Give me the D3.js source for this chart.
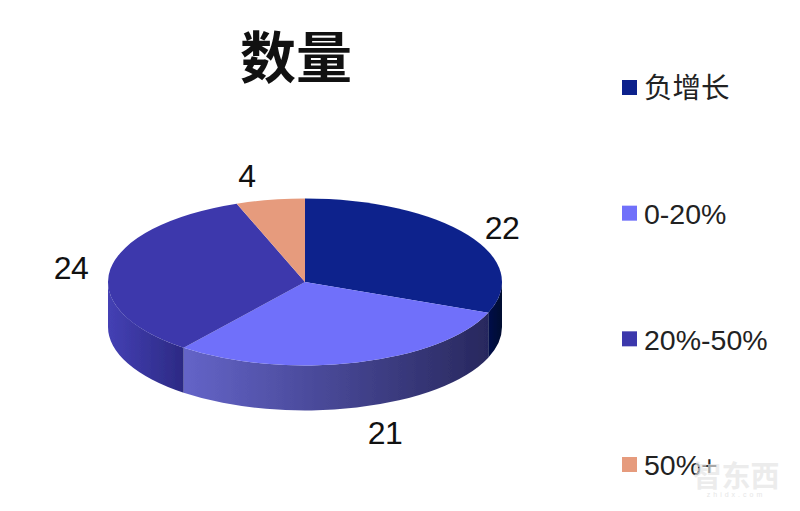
<!DOCTYPE html>
<html><head><meta charset="utf-8">
<script src="https://cdn.jsdelivr.net/npm/d3@7"></script>
<style>html,body{margin:0;padding:0;background:#fff}svg{display:block}</style>
</head><body><div id="c"></div>
<script>
const categories=["负增长","0-20%","20%-50%","50%+"];
const values=[22,21,24,4];
const colors=["#0c218c","#7070fa","#3c38ac","#e69b7d"];
const title="数量";
const sideStops=[["#00104a","#000a30"],["#6464c8","#28285e"],["#4440b4","#2c2a84"],["#a06a50","#a06a50"]];

const W=800,H=511,cx=305,cy=282,rx=197,ry=83.5,depth=45;
const svg=d3.select("#c").append("svg").attr("width",W).attr("height",H);
const defs=svg.append("defs");
defs.append("filter").attr("id","soft").append("feGaussianBlur").attr("stdDeviation",0.7);

const arcs=d3.pie().sort(null).value(d=>d)(values);
const px=a=>cx+rx*Math.sin(a), py=a=>cy-ry*Math.cos(a);
const g=svg.append("g").attr("filter","url(#soft)");

const lo=Math.PI/2,hi=Math.PI*1.5;
arcs.forEach((d,i)=>{
  const a=Math.max(d.startAngle,lo),b=Math.min(d.endAngle,hi);
  if(b<=a) return;
  const id="side"+i;
  const gr=defs.append("linearGradient").attr("id",id).attr("gradientUnits","userSpaceOnUse")
    .attr("x1",Math.min(px(a),px(b))).attr("x2",Math.max(px(a),px(b))).attr("y1",0).attr("y2",0);
  gr.append("stop").attr("offset",0).attr("stop-color",sideStops[i][0]);
  gr.append("stop").attr("offset",1).attr("stop-color",sideStops[i][1]);
  g.append("path").attr("fill",`url(#${id})`).attr("d",
    `M${px(a)},${py(a)}A${rx},${ry} 0 0 1 ${px(b)},${py(b)}`+
    `L${px(b)},${py(b)+depth}A${rx},${ry} 0 0 0 ${px(a)},${py(a)+depth}Z`);
});

const arc=d3.arc().innerRadius(0).outerRadius(rx);
g.append("g").attr("transform",`translate(${cx},${cy}) scale(1,${ry/rx})`)
  .selectAll("path").data(arcs).join("path")
  .attr("d",arc).attr("fill",(d,i)=>colors[i]);

const labelPos=[[502,227],[385,432],[71,267],[247,175]];
svg.append("g").selectAll("text").data(values).join("text")
  .attr("x",(d,i)=>labelPos[i][0]).attr("y",(d,i)=>labelPos[i][1])
  .attr("dy","0.36em").attr("text-anchor","middle")
  .attr("font-family","Liberation Sans").attr("font-size",32).attr("letter-spacing",-0.5).attr("fill","#111")
  .text(d=>d);

svg.append("text").attr("x",296).attr("y",78).attr("text-anchor","middle")
  .attr("font-family","Noto Sans CJK SC").attr("font-weight",700).attr("font-size",56).attr("fill","#111").text(title);

const ly=d3.scalePoint().domain(categories).range([88,465]);
const lg=svg.append("g").selectAll("g").data(categories).join("g")
  .attr("transform",d=>`translate(0,${ly(d)})`);
lg.append("rect").attr("x",622).attr("y",-8).attr("width",15).attr("height",15)
  .attr("fill",(d,i)=>colors[i]);
lg.append("text").attr("x",644).attr("dy","0.36em")
  .attr("font-family","Liberation Sans, Noto Sans CJK SC").attr("font-size",28.5).attr("fill","#222")
  .text(d=>d);

svg.append("text").attr("x",736).attr("y",487).attr("text-anchor","middle")
  .attr("font-family","Noto Sans CJK SC").attr("font-weight",700).attr("font-size",29)
  .attr("fill","#e4e4e4").attr("fill-opacity",0.7).text("智东西");
svg.append("text").attr("x",736).attr("y",497).attr("text-anchor","middle")
  .attr("font-family","Liberation Sans").attr("font-size",7).attr("letter-spacing",3)
  .attr("fill","#e6e6e6").text("zhidx.com");
</script></body></html>
